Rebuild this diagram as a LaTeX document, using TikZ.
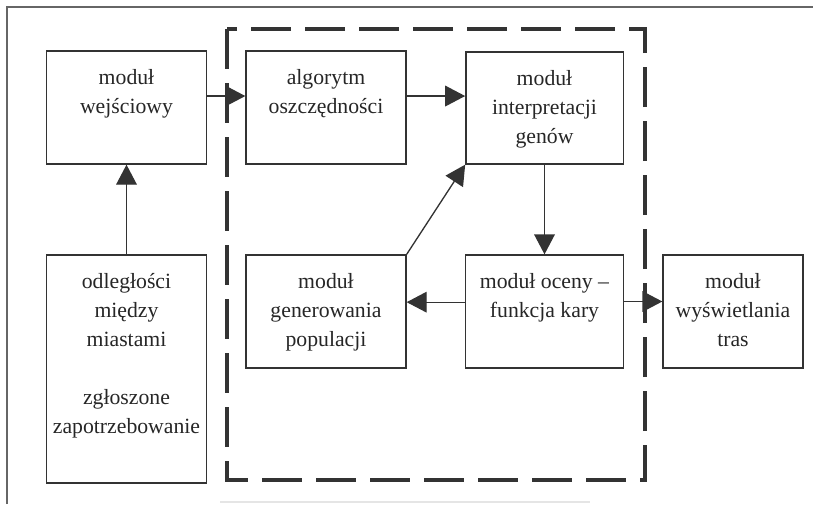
\documentclass[tikz,border=0pt]{standalone}
\usepackage{fontspec}
\setmainfont{Liberation Serif}
\usetikzlibrary{arrows.meta}
\usetikzlibrary{calc}

\newcommand{\blok}[3]{\parbox[c][#2][t]{#1}{\centering\rule{0pt}{25pt}#3}}

\begin{document}
\begin{tikzpicture}[x=0.75pt,y=-0.75pt,
  modul/.style={draw=black!80,line width=1pt,inner sep=0pt,text=black!85,font=\fontsize{16.3}{21.75}\selectfont},
  strzalka/.style={draw=black!80,line width=1pt,-{Triangle[length=15pt,width=15.5pt]}}]
\useasboundingbox (0,0) rectangle (813,504);
\draw[black!60,line width=0.8pt] (7,504) -- (7,7) -- (813,7);
\draw[black!10,line width=0.8pt] (220,502) -- (590,502);
\draw[black!80,line width=3pt,dash pattern=on 30pt off 10.5pt] (227,29) rectangle (645,480);
\node[modul] (wej) at (126.5,107.5) {\blok{120pt}{84.75pt}{moduł\\wejściowy}};
\node[modul] (alg) at (326,107.5) {\blok{120pt}{84.75pt}{algorytm\\oszczędności}};
\node[modul] (int) at (544.5,108) {\blok{118pt}{84pt}{moduł\\interpretacji\\genów}};
\node[modul] (odl) at (126.5,369) {\blok{120pt}{171pt}{odległości\\między\\miastami\\[21.75pt]zgłoszone\\zapotrzebowanie}};
\node[modul] (gen) at (326,311.5) {\blok{120pt}{84.75pt}{moduł\\generowania\\populacji}};
\node[modul] (oce) at (544.5,311.5) {\blok{118.5pt}{84.75pt}{moduł oceny –\\funkcja kary}};
\node[modul] (wys) at (733,311.5) {\blok{105pt}{84.75pt}{moduł\\wyświetlania\\tras}};
\draw[strzalka] (odl) -- (wej);
\draw[strzalka] ([yshift=8.6pt]wej.east) -- ([yshift=8.6pt]alg.west);
\draw[strzalka] ([yshift=8.6pt]alg.east) -- ([yshift=8.6pt]alg.east -| int.west);
\draw[strzalka] (int) -- (oce);
\draw[strzalka] (gen.north east) -- (int.south west);
\draw[strzalka] ([yshift=7pt]oce.west) -- ([yshift=7pt]oce.west -| gen.east);
\draw[strzalka] ([yshift=7.5pt]oce.east) -- ([yshift=7.5pt]oce.east -| wys.west);
\end{tikzpicture}
\end{document}
